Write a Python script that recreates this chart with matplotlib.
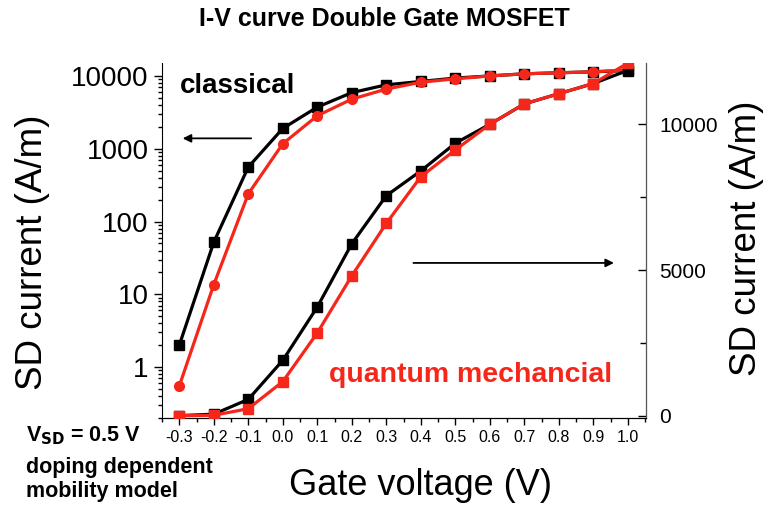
import numpy as np
import matplotlib
matplotlib.use("Agg")
import matplotlib.pyplot as plt
from matplotlib.ticker import LogLocator, MultipleLocator, NullFormatter

# Gate voltage (V) and source-drain current (A/m), same data on both axes
gate_v = [-0.3, -0.2, -0.1, 0.0, 0.1, 0.2, 0.3, 0.4, 0.5, 0.6, 0.7, 0.8, 0.9, 1.0]
classical = [2.0, 52, 560, 1900, 3730, 5900, 7550, 8400, 9350, 10000,
             10700, 11050, 11400, 11850]
quantum = [0.55, 13.6, 240, 1170, 2840, 4800, 6600, 8200, 9120, 10000,
           10700, 11050, 11400, 12100]

x_ticks = [-0.3, -0.2, -0.1, 0.0, 0.1, 0.2, 0.3, 0.4, 0.5, 0.6, 0.7, 0.8, 0.9, 1.0]
left_ticks = [1, 10, 100, 1000, 10000]
right_ticks = [0, 5000, 10000]

BLACK = "#000000"
RED = "#f5271a"

plt.rcParams["font.family"] = ["Liberation Sans", "DejaVu Sans"]

fig = plt.figure(figsize=(7.69, 5.07), dpi=100)
ax = fig.add_axes([0.2107, 0.1755, 0.629, 0.700])
ax2 = ax.twinx()

# log-scale (left) curves
ax.plot(gate_v, classical, color=BLACK, lw=2.3, marker="s", ms=6.5, zorder=3)
ax.plot(gate_v, quantum, color=RED, lw=2.3, marker="o", ms=7, zorder=3)
ax.set_yscale("log")
ax.set_ylim(0.2, 15000)
ax.set_xlim(-0.35, 1.052)

# linear-scale (right) curves
ax2.plot(gate_v, classical, color=BLACK, lw=2.3, marker="s", ms=6.5, zorder=3)
ax2.plot(gate_v, quantum, color=RED, lw=2.3, marker="s", ms=6.5, zorder=3)
ax2.set_ylim(-80, 12100)

ax.set_xticks(x_ticks)
ax.set_xticklabels([f"{v:.1f}" for v in x_ticks], fontsize=11.5)
ax.xaxis.set_minor_locator(MultipleLocator(0.05))
ax.tick_params(axis="x", which="major", direction="out", length=5, width=1)
ax.tick_params(axis="x", which="minor", direction="out", length=3, width=1)

ax.set_yticks(left_ticks)
ax.set_yticklabels([str(v) for v in left_ticks], fontsize=20)
ax.yaxis.set_minor_locator(LogLocator(base=10, subs=np.arange(2, 10)))
ax.yaxis.set_minor_formatter(NullFormatter())
ax.tick_params(axis="y", which="major", direction="out", length=6, width=1)
ax.tick_params(axis="y", which="minor", direction="out", length=3, width=1)

ax2.set_yticks(right_ticks)
ax2.set_yticklabels([str(v) for v in right_ticks], fontsize=15)
ax2.yaxis.set_minor_locator(MultipleLocator(2500))
ax2.tick_params(axis="y", which="major", direction="in", length=6, width=1, pad=10)
ax2.tick_params(axis="y", which="minor", direction="in", length=4, width=1)

for a in (ax, ax2):
    a.spines["top"].set_visible(False)
ax2.spines["right"].set_color("#555555")
ax2.spines["left"].set_visible(False)

ax.set_xlabel("Gate voltage (V)", fontsize=26, va="center")
ax.xaxis.set_label_coords(0.535, -0.189)
ax.set_ylabel("SD current (A/m)", fontsize=26.5, va="center")
ax.yaxis.set_label_coords(-0.267, 0.468)
ax2.set_ylabel("SD current (A/m)", fontsize=26.5, va="center")
ax2.yaxis.set_label_coords(1.208, 0.507)

fig.text(0.5, 0.963, "I-V curve Double Gate MOSFET", ha="center", va="center",
         fontsize=18, fontweight="bold")

# annotations
ax.text(0.037, 0.935, "classical", transform=ax.transAxes, fontsize=20,
        fontweight="bold", color=BLACK, ha="left", va="center")
ax.text(0.345, 0.12, "quantum mechancial", transform=ax.transAxes, fontsize=20.5,
        fontweight="bold", color=RED, ha="left", va="center")
ax.annotate("", xy=(0.037, 0.788), xytext=(0.19, 0.788), xycoords="axes fraction",
            arrowprops=dict(arrowstyle="-|>", color=BLACK, lw=1.3,
                            mutation_scale=12))
ax.annotate("", xy=(0.94, 0.437), xytext=(0.514, 0.437), xycoords="axes fraction",
            arrowprops=dict(arrowstyle="-|>", color=BLACK, lw=1.3,
                            mutation_scale=12))

fig.text(0.034, 0.14, r"V$_{\mathbf{SD}}$ = 0.5 V", fontsize=15.5, fontweight="bold",
         ha="left", va="center")
fig.text(0.034, 0.077, "doping dependent", fontsize=15.5, fontweight="bold",
         ha="left", va="center")
fig.text(0.034, 0.03, "mobility model", fontsize=15.5, fontweight="bold",
         ha="left", va="center")

fig.savefig("out.png", dpi=100)
